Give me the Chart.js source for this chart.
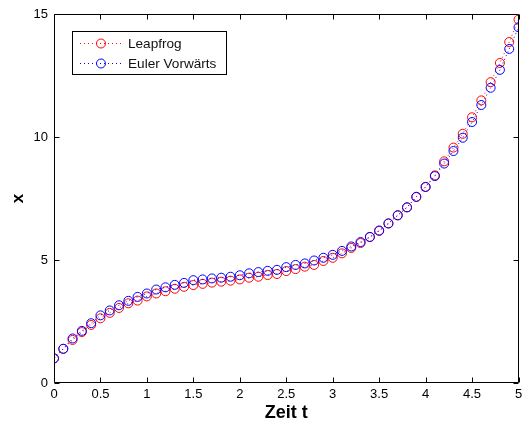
<!DOCTYPE html>
<html>
<head>
<meta charset="utf-8">
<script src="https://cdn.jsdelivr.net/npm/chart.js@4/dist/chart.umd.min.js"></script>
<style>
  body { margin: 0; background: #fff; }
  canvas { display: block; }
</style>
</head>
<body>
<canvas id="odeChart" width="524" height="427"></canvas>
<script>
// time steps (dt = 0.1)
const zeit = [0, 0.1, 0.2, 0.3, 0.4, 0.5, 0.6, 0.7, 0.8, 0.9,
  1.0, 1.1, 1.2, 1.3, 1.4, 1.5, 1.6, 1.7, 1.8, 1.9,
  2.0, 2.1, 2.2, 2.3, 2.4, 2.5, 2.6, 2.7, 2.8, 2.9,
  3.0, 3.1, 3.2, 3.3, 3.4, 3.5, 3.6, 3.7, 3.8, 3.9,
  4.0, 4.1, 4.2, 4.3, 4.4, 4.5, 4.6, 4.7, 4.8, 4.9, 5.0];

const leapfrog = [1.00, 1.39, 1.75, 2.07, 2.36, 2.63, 2.85, 3.05, 3.24, 3.35,
  3.52, 3.64, 3.73, 3.83, 3.91, 3.98, 4.03, 4.08, 4.12, 4.16,
  4.21, 4.28, 4.32, 4.39, 4.43, 4.55, 4.63, 4.73, 4.80, 4.96,
  5.09, 5.27, 5.49, 5.69, 5.93, 6.18, 6.48, 6.81, 7.14, 7.56,
  7.97, 8.44, 9.01, 9.57, 10.13, 10.80, 11.49, 12.23, 13.01, 13.86, 14.77];

const eulerVorwaerts = [1.00, 1.39, 1.81, 2.12, 2.43, 2.75, 2.95, 3.16, 3.34, 3.50,
  3.64, 3.80, 3.89, 3.99, 4.07, 4.18, 4.21, 4.25, 4.28, 4.32,
  4.38, 4.46, 4.51, 4.56, 4.60, 4.71, 4.80, 4.86, 4.98, 5.09,
  5.21, 5.37, 5.55, 5.73, 5.94, 6.20, 6.49, 6.82, 7.14, 7.57,
  7.97, 8.41, 8.92, 9.43, 9.97, 10.61, 11.30, 12.00, 12.73, 13.58, 14.46];

const xTicks = [0, 0.5, 1, 1.5, 2, 2.5, 3, 3.5, 4, 4.5, 5];
const yTicks = [0, 5, 10, 15];

const FONT = "'Liberation Sans', Arial, sans-serif";

function toPoints(ys) {
  return zeit.map((t, i) => ({ x: t, y: ys[i] }));
}

// box around the axes, ticks pointing inwards (matlab style)
const axesBox = {
  id: "axesBox",
  afterDatasetsDraw(chart) {
    const ctx = chart.ctx;
    const a = chart.chartArea;
    const xs = chart.scales.x;
    const ys = chart.scales.y;
    const L = Math.round(a.left) + 0.5, R = Math.round(a.right) - 0.5;
    const T = Math.round(a.top) + 0.5, B = Math.round(a.bottom) - 0.5;
    ctx.save();
    ctx.lineWidth = 1;
    ctx.strokeStyle = "#000";
    ctx.beginPath();
    ctx.rect(L, T, R - L, B - T);
    xs.ticks.forEach(t => {
      const px = Math.round(xs.getPixelForValue(t.value)) + 0.5;
      ctx.moveTo(px, B); ctx.lineTo(px, B - 5);
      ctx.moveTo(px, T); ctx.lineTo(px, T + 5);
    });
    ys.ticks.forEach(t => {
      const py = Math.round(ys.getPixelForValue(t.value)) + 0.5;
      ctx.moveTo(L, py); ctx.lineTo(L + 5, py);
      ctx.moveTo(R, py); ctx.lineTo(R - 5, py);
    });
    ctx.stroke();
    ctx.restore();
  }
};

// legend box in the upper left corner
const innerLegend = {
  id: "innerLegend",
  afterDraw(chart) {
    const ctx = chart.ctx;
    const sets = chart.data.datasets.slice().sort((a, b) => b.order - a.order);
    ctx.save();
    ctx.fillStyle = "#fff";
    ctx.fillRect(72.5, 31.5, 154, 43);
    ctx.strokeStyle = "#000";
    ctx.lineWidth = 1;
    ctx.strokeRect(72.5, 31.5, 154, 43);
    ctx.font = "13.6px " + FONT;
    ctx.textBaseline = "middle";
    sets.forEach((ds, i) => {
      const yy = 43.5 + i * 20;
      ctx.strokeStyle = ds.borderColor;
      ctx.setLineDash([1, 3]);
      ctx.beginPath();
      ctx.moveTo(80, yy); ctx.lineTo(121, yy);
      ctx.stroke();
      ctx.setLineDash([]);
      ctx.beginPath();
      ctx.arc(101, yy, 4.5, 0, Math.PI * 2);
      ctx.stroke();
      ctx.fillStyle = "#111";
      ctx.fillText(ds.label, 128, yy + 0.5);
    });
    ctx.restore();
  }
};

new Chart(document.getElementById("odeChart").getContext("2d"), {
  type: "line",
  data: {
    datasets: [
      {
        label: "Leapfrog",
        data: toPoints(leapfrog),
        borderColor: "#ff0000",
        borderWidth: 1,
        borderDash: [1, 3],
        pointRadius: 4.5,
        pointBorderWidth: 1,
        pointBackgroundColor: "rgba(0,0,0,0)",
        pointBorderColor: "#ff0000",
        order: 2,
        clip: 0
      },
      {
        label: "Euler Vorwärts",
        data: toPoints(eulerVorwaerts),
        borderColor: "#0000ff",
        borderWidth: 1,
        borderDash: [1, 3],
        pointRadius: 4.5,
        pointBorderWidth: 1,
        pointBackgroundColor: "rgba(0,0,0,0)",
        pointBorderColor: "#0000ff",
        order: 1,
        clip: 0
      }
    ]
  },
  options: {
    responsive: false,
    animation: false,
    layout: { padding: { top: 14, right: 3, left: 0, bottom: 0 } },
    plugins: {
      legend: { display: false },
      tooltip: { enabled: false }
    },
    scales: {
      x: {
        type: "linear",
        min: 0,
        max: 5,
        afterBuildTicks: s => { s.ticks = xTicks.map(v => ({ value: v })); },
        grid: { display: false, drawTicks: false },
        border: { display: false },
        ticks: { color: "#000", font: { size: 13, family: FONT }, padding: 4, maxRotation: 0,
          callback: v => String(Number(v)) },
        title: { display: true, text: "Zeit t", color: "#000", font: { size: 18, weight: "bold", family: FONT }, padding: { top: 0, bottom: 3 } },
        afterFit: s => { s.height = 44; s.paddingRight = 0; s.paddingLeft = 0; }
      },
      y: {
        min: 0,
        max: 15,
        afterBuildTicks: s => { s.ticks = yTicks.map(v => ({ value: v })); },
        grid: { display: false, drawTicks: false },
        border: { display: false },
        ticks: { color: "#000", font: { size: 13, family: FONT }, padding: 6,
          callback: v => String(Number(v)) },
        title: { display: true, text: "x", color: "#000", font: { size: 17, weight: "bold", family: FONT }, padding: { top: 8, bottom: 0 } },
        afterFit: s => { s.width = 54; s.paddingTop = 0; s.paddingBottom = 0; }
      }
    }
  },
  plugins: [axesBox, innerLegend]
});
</script>
</body>
</html>
